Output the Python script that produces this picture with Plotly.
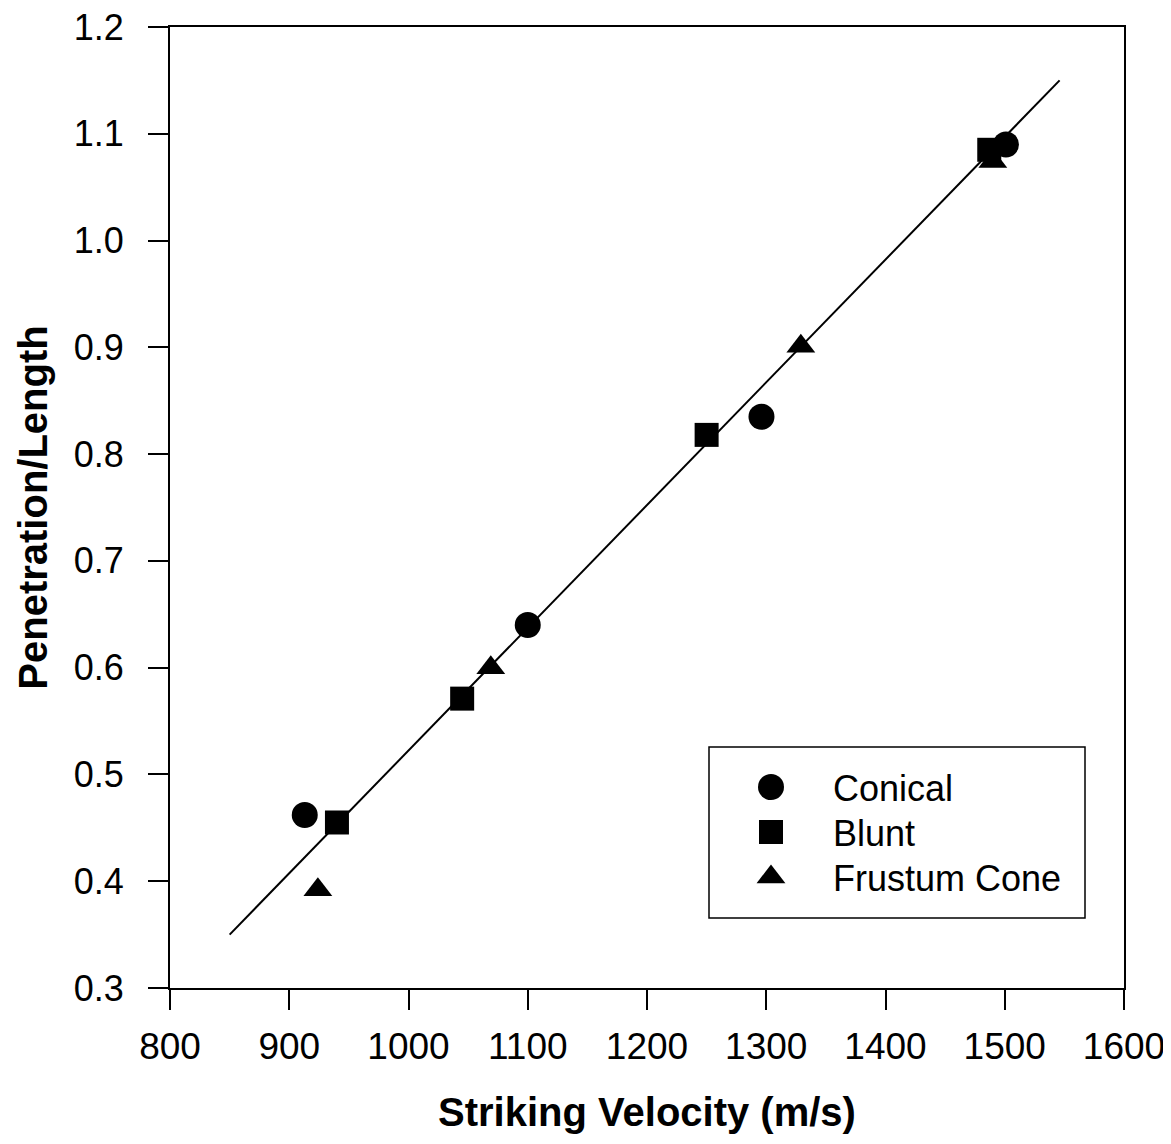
import plotly.graph_objects as go

conical_v = [913, 1100, 1296, 1501]
conical_p = [0.462, 0.640, 0.835, 1.090]
blunt_v = [940, 1045, 1250, 1487]
blunt_p = [0.455, 0.571, 0.818, 1.085]
frustum_v = [924, 1069, 1329, 1490]
frustum_p = [0.392, 0.600, 0.901, 1.074]
fit_v = [850, 1546]
fit_p = [0.350, 1.150]

legend_names = ["Conical", "Blunt", "Frustum Cone"]
legend_symbols = ["circle", "square", "triangle-up"]
legend_sizes = [26, 24, 25]

FONT = "Liberation Sans, Arial, sans-serif"

# plot area in screen coords: x 170..1124, y 27..988
def px(xs):
    return (xs - 170) / 954

def py(ys):
    return (988 - ys) / 961

fig = go.Figure()
fig.add_trace(go.Scatter(x=fit_v, y=fit_p, mode="lines", line=dict(color="black", width=2),
                         showlegend=False, name="fit"))
for name, vx, vy, sym, sz in zip(legend_names, [conical_v, blunt_v, frustum_v],
                                 [conical_p, blunt_p, frustum_p], legend_symbols, legend_sizes):
    fig.add_trace(go.Scatter(x=vx, y=vy, mode="markers", name=name, showlegend=False,
                             marker=dict(symbol=sym, size=sz, color="black", opacity=1,
                                         line=dict(width=0))))

# legend drawn on an overlay axis so the symbols keep their full size
row_y = [787, 832, 877]
fig.add_trace(go.Scatter(x=[px(771)] * 3, y=[py(r) for r in row_y], mode="markers",
                         xaxis="x2", yaxis="y2", showlegend=False, hoverinfo="skip",
                         marker=dict(symbol=legend_symbols, size=legend_sizes, color="black",
                                     opacity=1, line=dict(width=0))))
for name, r in zip(legend_names, row_y):
    fig.add_annotation(text=name, xref="paper", yref="paper", x=px(831), y=py(r + 1),
                       xanchor="left", yanchor="middle", showarrow=False,
                       font=dict(family=FONT, size=36, color="black"))

fig.add_shape(type="rect", xref="paper", yref="paper",
              x0=px(709), x1=px(1085), y0=py(918), y1=py(747),
              line=dict(color="black", width=1.5), fillcolor="rgba(0,0,0,0)")

axis_common = dict(showgrid=False, zeroline=False, showline=True, linecolor="black", linewidth=2,
                   mirror=True, ticks="outside", ticklen=20, tickwidth=2, tickcolor="black",
                   automargin=False, ticklabeloverflow="allow")
fig.update_xaxes(range=[800, 1600], dtick=100, tick0=800, ticklabelstandoff=5,
                 tickfont=dict(family=FONT, size=37, color="black"),
                 title=dict(text="<b>Striking Velocity (m/s)</b>", font=dict(family=FONT, size=40, color="black"), standoff=32),
                 **axis_common)
fig.update_yaxes(range=[0.3, 1.2], dtick=0.1, tick0=0.3, tickformat=".1f", ticklabelstandoff=17,
                 tickfont=dict(family=FONT, size=36, color="black"),
                 title=dict(text="<b>Penetration/Length</b>", font=dict(family=FONT, size=40, color="black"), standoff=14),
                 **axis_common)

fig.update_layout(
    width=1171, height=1144,
    margin=dict(l=162, r=55, t=19, b=164),
    plot_bgcolor="white", paper_bgcolor="white",
    xaxis2=dict(overlaying="x", range=[0, 1], visible=False, fixedrange=True),
    yaxis2=dict(overlaying="y", range=[0, 1], visible=False, fixedrange=True),
    showlegend=False,
)
fig.write_html("out.html")
